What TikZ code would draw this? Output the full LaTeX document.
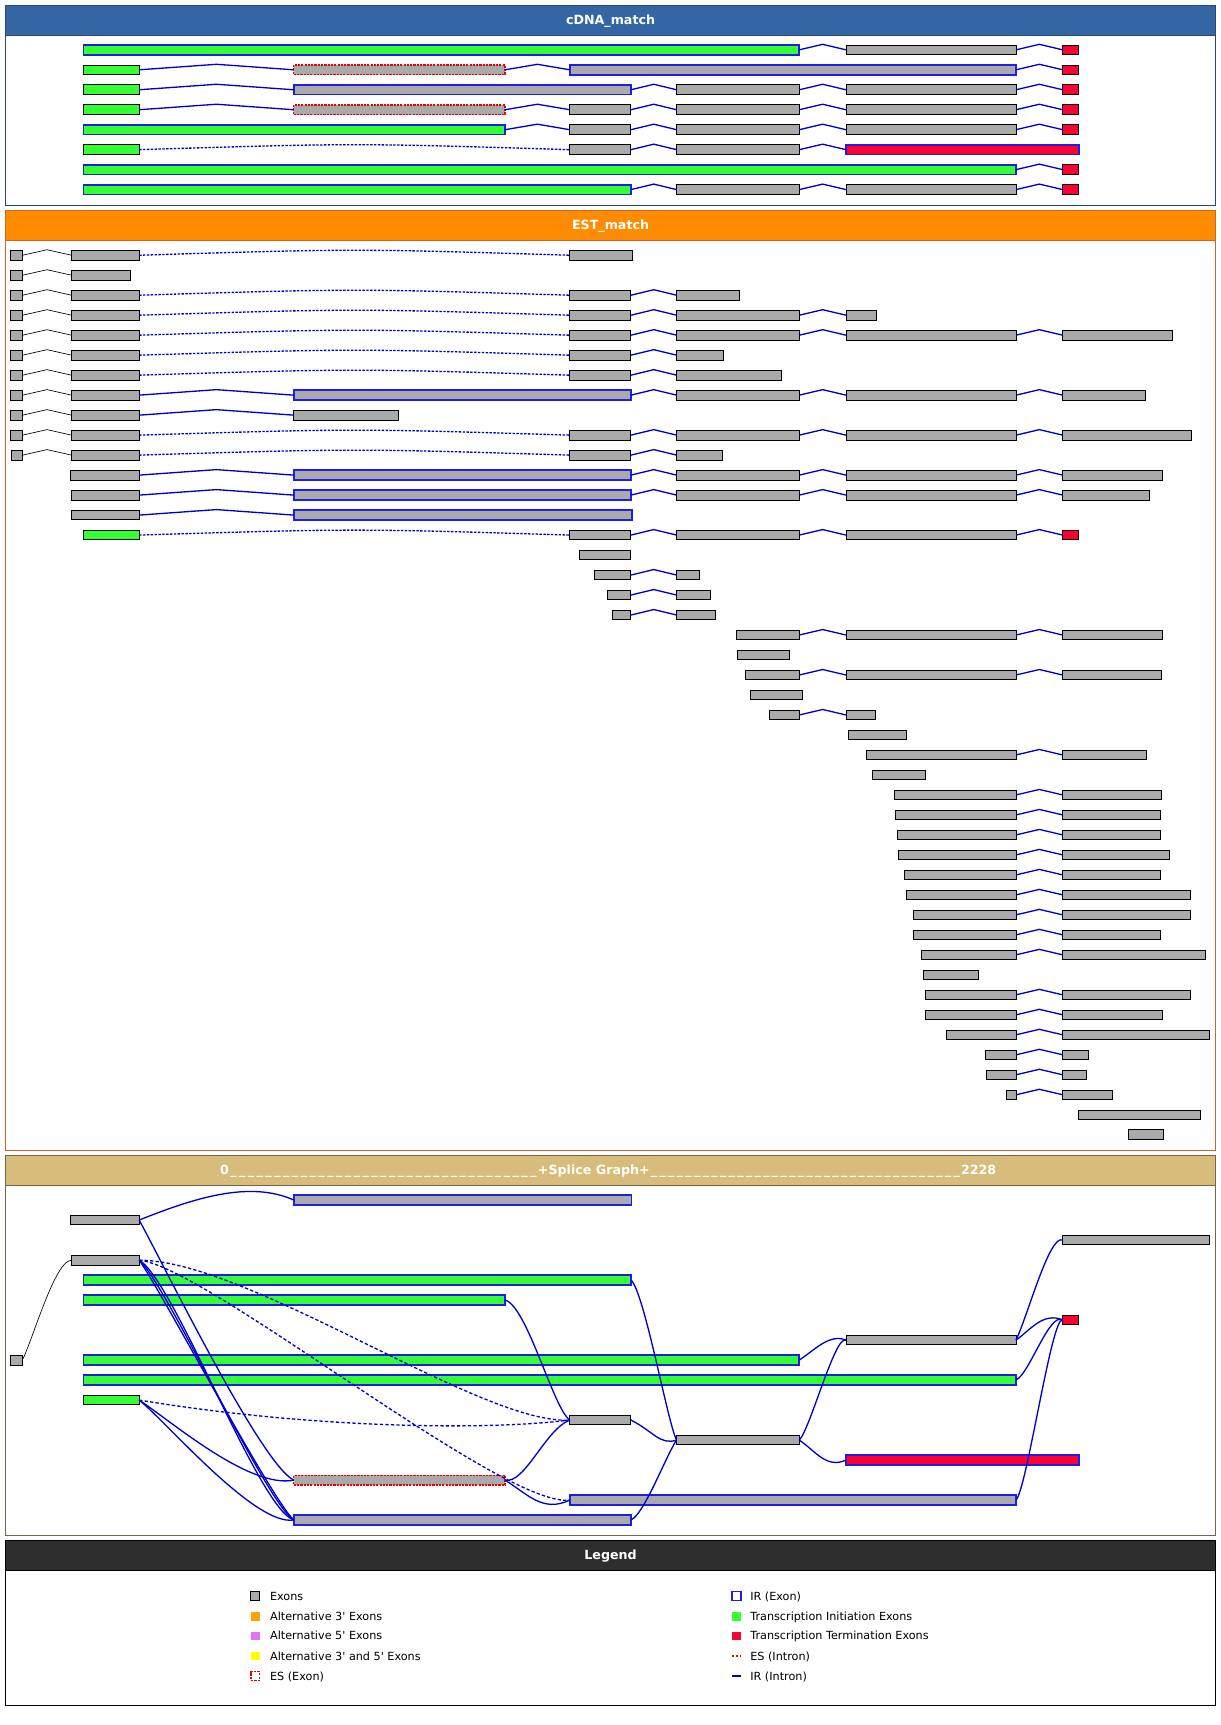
\documentclass[tikz,border=0pt]{standalone}
\usepackage{fontspec}
\setmainfont{DejaVu Sans}
\usetikzlibrary{calc}
\definecolor{exgray}{RGB}{170,170,170}
\definecolor{exgreen}{RGB}{51,255,51}
\definecolor{exred}{RGB}{255,0,51}
\definecolor{irblue}{RGB}{30,30,230}
\definecolor{inblue}{RGB}{0,0,205}
\definecolor{esred}{RGB}{235,0,0}
\definecolor{hdblue}{RGB}{52,101,164}
\definecolor{frblue}{RGB}{40,72,115}
\definecolor{hdorange}{RGB}{255,140,0}
\definecolor{frorange}{RGB}{205,100,40}
\definecolor{hdtan}{RGB}{215,188,123}
\definecolor{frtan}{RGB}{115,100,75}
\definecolor{hddark}{RGB}{46,46,46}
\definecolor{lgorange}{RGB}{255,165,0}
\definecolor{lgviolet}{RGB}{221,119,243}
\definecolor{lgyellow}{RGB}{255,255,0}
\newcommand\exn[5]{\node[#5,minimum width={#3-#2},anchor=west] (#1) at (#2,#4) {};}
\newcommand\intn[2]{\draw[intb] (#1.east) -- ($(#1.east)!.5!(#2.west)+(0,-5)$) -- (#2.west);}
\newcommand\intk[2]{\draw[intbk] (#1.east) -- ($(#1.east)!.5!(#2.west)+(0,-5)$) -- (#2.west);}
\newcommand\intd[2]{\draw[intds] (#1.east) .. controls ($(#1.east)!.5!(#2.west)+(0,-6)$) .. (#2.west);}
\begin{document}
\begin{tikzpicture}[x=1pt,y=-1pt,
  every node/.style={inner sep=0pt,outer sep=0pt},
  xbox/.style={rectangle,minimum height=8.8pt},
  gex/.style={xbox,fill=exgray,draw=black,line width=0.8pt},
  gir/.style={xbox,fill=exgray,draw=irblue,line width=1.6pt},
  grn/.style={xbox,fill=exgreen,draw=black,line width=0.8pt},
  grnir/.style={xbox,fill=exgreen,draw=irblue,line width=1.6pt},
  rex/.style={xbox,fill=exred,draw=black,line width=0.8pt},
  rexir/.style={xbox,fill=exred,draw=irblue,line width=1.6pt},
  esx/.style={xbox,fill=exgray,draw=esred,line width=1.3pt,dash pattern=on 2pt off 1pt},
  intb/.style={draw=inblue,line width=1.2pt},
  intbk/.style={draw=black,line width=0.6pt},
  intds/.style={draw=inblue,line width=1.2pt,dash pattern=on 2.2pt off 1.3pt},
  sg/.style={draw=inblue,line width=1.2pt},
  sgd/.style={draw=inblue,line width=1.2pt,dash pattern=on 3pt off 2pt},
  sgk/.style={draw=black,line width=0.6pt},
  htitle/.style={text=white,font=\bfseries\fontsize{11.5}{13}\selectfont},
  lgtx/.style={anchor=base west,font=\fontsize{10.2}{12}\selectfont},
  lgsq/.style={minimum width=8pt,minimum height=8pt},
]
\useasboundingbox[fill=white] (0,0) rectangle (1109,1568);
% ---------------- panels
\fill[hdblue] (5,5) rectangle (1105,32);
\draw[frblue,line width=1pt] (5,5) rectangle (1105,186.5) (5,32) -- (1105,32);
\node[htitle,anchor=base] (t1) at (555,22.7) {cDNA\_match};
\fill[hdorange] (5,191) rectangle (1105,218.5);
\draw[frorange,line width=1pt] (5,191) rectangle (1105,1045.5) (5,218.5) -- (1105,218.5);
\node[htitle,anchor=base] (t2) at (555,209) {EST\_match};
\fill[hdtan] (5,1050) rectangle (1105,1077.3);
\draw[frtan,line width=1pt] (5,1050) rectangle (1105,1395.5) (5,1077.3) -- (1105,1077.3);
\node[htitle,anchor=base west] (t3) at (200,1067.8) {0\hbox to 281pt{\xleaders\hbox to 7.81pt{\hss\_\hss}\hfill}+Splice Graph+\hbox to 283pt{\xleaders\hbox to 7.86pt{\hss\_\hss}\hfill}2228};
\fill[hddark] (5,1400) rectangle (1105,1427.3);
\draw[black,line width=1pt] (5,1400) rectangle (1105,1550.5) (5,1427.3) -- (1105,1427.3);
\node[htitle,anchor=base] (t4) at (555,1417.9) {Legend};
% ---------------- cDNA
\exn{c1a}{76}{726.5}{45.3}{grnir}\exn{c1b}{769}{923.5}{45.3}{gex}\exn{c1c}{966}{980.5}{45.3}{rex}
\intn{c1a}{c1b}\intn{c1b}{c1c}
\exn{c2a}{76}{126.5}{63.45}{grn}\exn{c2b}{267}{459}{63.45}{esx}\exn{c2c}{518}{923.5}{63.45}{gir}\exn{c2d}{966}{980.5}{63.45}{rex}
\intn{c2a}{c2b}\intn{c2b}{c2c}\intn{c2c}{c2d}
\exn{c3a}{76}{126.5}{81.6}{grn}\exn{c3b}{267}{573.5}{81.6}{gir}\exn{c3c}{615}{726.5}{81.6}{gex}\exn{c3d}{769}{923.5}{81.6}{gex}\exn{c3e}{966}{980.5}{81.6}{rex}
\intn{c3a}{c3b}\intn{c3b}{c3c}\intn{c3c}{c3d}\intn{c3d}{c3e}
\exn{c4a}{76}{126.5}{99.75}{grn}\exn{c4b}{267}{459}{99.75}{esx}\exn{c4c}{518}{573.5}{99.75}{gex}\exn{c4d}{615}{726.5}{99.75}{gex}\exn{c4e}{769}{923.5}{99.75}{gex}\exn{c4f}{966}{980.5}{99.75}{rex}
\intn{c4a}{c4b}\intn{c4b}{c4c}\intn{c4c}{c4d}\intn{c4d}{c4e}\intn{c4e}{c4f}
\exn{c5a}{76}{459}{117.9}{grnir}\exn{c5b}{518}{573.5}{117.9}{gex}\exn{c5c}{615}{726.5}{117.9}{gex}\exn{c5d}{769}{923.5}{117.9}{gex}\exn{c5e}{966}{980.5}{117.9}{rex}
\intn{c5a}{c5b}\intn{c5b}{c5c}\intn{c5c}{c5d}\intn{c5d}{c5e}
\exn{c6a}{76}{126.5}{136.05}{grn}\exn{c6b}{518}{573.5}{136.05}{gex}\exn{c6c}{615}{726.5}{136.05}{gex}\exn{c6d}{769}{980.5}{136.05}{rexir}
\intd{c6a}{c6b}\intn{c6b}{c6c}\intn{c6c}{c6d}
\exn{c7a}{76}{923.5}{154.2}{grnir}\exn{c7b}{966}{980.5}{154.2}{rex}
\intn{c7a}{c7b}
\exn{c8a}{76}{573.5}{172.35}{grnir}\exn{c8b}{615}{726.5}{172.35}{gex}\exn{c8c}{769}{923.5}{172.35}{gex}\exn{c8d}{966}{980.5}{172.35}{rex}
\intn{c8a}{c8b}\intn{c8b}{c8c}\intn{c8c}{c8d}
% ---------------- EST
\exn{e0s}{9.5}{20.5}{232}{gex}\exn{e0a}{65}{126.5}{232}{gex}\exn{e0c}{518}{574.5}{232}{gex}
\intk{e0s}{e0a}\intd{e0a}{e0c}
\exn{e1s}{9.5}{20.5}{250.17}{gex}\exn{e1a}{65}{119}{250.17}{gex}
\intk{e1s}{e1a}
\exn{e2s}{9.5}{20.5}{268.34}{gex}\exn{e2a}{65}{126.5}{268.34}{gex}\exn{e2c}{518}{573.5}{268.34}{gex}\exn{e2d}{615}{672}{268.34}{gex}
\intk{e2s}{e2a}\intd{e2a}{e2c}\intn{e2c}{e2d}
\exn{e3s}{9.5}{20.5}{286.51}{gex}\exn{e3a}{65}{126.5}{286.51}{gex}\exn{e3c}{518}{573.5}{286.51}{gex}\exn{e3d}{615}{726.5}{286.51}{gex}\exn{e3e}{769}{797}{286.51}{gex}
\intk{e3s}{e3a}\intd{e3a}{e3c}\intn{e3c}{e3d}\intn{e3d}{e3e}
\exn{e4s}{9.5}{20.5}{304.68}{gex}\exn{e4a}{65}{126.5}{304.68}{gex}\exn{e4c}{518}{573.5}{304.68}{gex}\exn{e4d}{615}{726.5}{304.68}{gex}\exn{e4e}{769}{923.5}{304.68}{gex}\exn{e4f}{966}{1066}{304.68}{gex}
\intk{e4s}{e4a}\intd{e4a}{e4c}\intn{e4c}{e4d}\intn{e4d}{e4e}\intn{e4e}{e4f}
\exn{e5s}{9.5}{20.5}{322.85}{gex}\exn{e5a}{65}{126.5}{322.85}{gex}\exn{e5c}{518}{573.5}{322.85}{gex}\exn{e5d}{615}{658}{322.85}{gex}
\intk{e5s}{e5a}\intd{e5a}{e5c}\intn{e5c}{e5d}
\exn{e6s}{9.5}{20.5}{341.02}{gex}\exn{e6a}{65}{126.5}{341.02}{gex}\exn{e6c}{518}{573.5}{341.02}{gex}\exn{e6d}{615}{710}{341.02}{gex}
\intk{e6s}{e6a}\intd{e6a}{e6c}\intn{e6c}{e6d}
\exn{e7s}{9.5}{20.5}{359.19}{gex}\exn{e7a}{65}{126.5}{359.19}{gex}\exn{e7b}{267}{573.5}{359.19}{gir}\exn{e7d}{615}{726.5}{359.19}{gex}\exn{e7e}{769}{923.5}{359.19}{gex}\exn{e7f}{966}{1041}{359.19}{gex}
\intk{e7s}{e7a}\intn{e7a}{e7b}\intn{e7b}{e7d}\intn{e7d}{e7e}\intn{e7e}{e7f}
\exn{e8s}{9.5}{20.5}{377.36}{gex}\exn{e8a}{65}{126.5}{377.36}{gex}\exn{e8b}{267}{362}{377.36}{gex}
\intk{e8s}{e8a}\intn{e8a}{e8b}
\exn{e9s}{9.5}{20.5}{395.53}{gex}\exn{e9a}{65}{126.5}{395.53}{gex}\exn{e9c}{518}{573.5}{395.53}{gex}\exn{e9d}{615}{726.5}{395.53}{gex}\exn{e9e}{769}{923.5}{395.53}{gex}\exn{e9f}{966}{1083}{395.53}{gex}
\intk{e9s}{e9a}\intd{e9a}{e9c}\intn{e9c}{e9d}\intn{e9d}{e9e}\intn{e9e}{e9f}
\exn{e10s}{10.3}{20.5}{413.7}{gex}\exn{e10a}{65}{126.5}{413.7}{gex}\exn{e10c}{518}{573.5}{413.7}{gex}\exn{e10d}{615}{657}{413.7}{gex}
\intk{e10s}{e10a}\intd{e10a}{e10c}\intn{e10c}{e10d}
\exn{e11a}{64}{126.5}{431.87}{gex}\exn{e11b}{267}{573.5}{431.87}{gir}\exn{e11d}{615}{726.5}{431.87}{gex}\exn{e11e}{769}{923.5}{431.87}{gex}\exn{e11f}{966}{1057}{431.87}{gex}
\intn{e11a}{e11b}\intn{e11b}{e11d}\intn{e11d}{e11e}\intn{e11e}{e11f}
\exn{e12a}{65}{126.5}{450.04}{gex}\exn{e12b}{267}{573.5}{450.04}{gir}\exn{e12d}{615}{726.5}{450.04}{gex}\exn{e12e}{769}{923.5}{450.04}{gex}\exn{e12f}{966}{1045}{450.04}{gex}
\intn{e12a}{e12b}\intn{e12b}{e12d}\intn{e12d}{e12e}\intn{e12e}{e12f}
\exn{e13a}{65}{126.5}{468.21}{gex}\exn{e13b}{267}{574.5}{468.21}{gir}
\intn{e13a}{e13b}
\exn{e14a}{76}{126.5}{486.38}{grn}\exn{e14c}{518}{573.5}{486.38}{gex}\exn{e14d}{615}{726.5}{486.38}{gex}\exn{e14e}{769}{923.5}{486.38}{gex}\exn{e14f}{966}{980.5}{486.38}{rex}
\intd{e14a}{e14c}\intn{e14c}{e14d}\intn{e14d}{e14e}\intn{e14e}{e14f}
\exn{e15c}{527}{573.5}{504.55}{gex}
\exn{e16c}{540}{573.5}{522.72}{gex}\exn{e16d}{615}{636}{522.72}{gex}\intn{e16c}{e16d}
\exn{e17c}{552}{573.5}{540.89}{gex}\exn{e17d}{615}{646}{540.89}{gex}\intn{e17c}{e17d}
\exn{e18c}{557}{573.5}{559.06}{gex}\exn{e18d}{615}{650}{559.06}{gex}\intn{e18c}{e18d}
\exn{e19d}{669}{726.5}{577.23}{gex}\exn{e19e}{769}{923.5}{577.23}{gex}\exn{e19f}{966}{1057}{577.23}{gex}\intn{e19d}{e19e}\intn{e19e}{e19f}
\exn{e20d}{670}{718}{595.4}{gex}
\exn{e21d}{678}{726.5}{613.57}{gex}\exn{e21e}{769}{923.5}{613.57}{gex}\exn{e21f}{966}{1056}{613.57}{gex}\intn{e21d}{e21e}\intn{e21e}{e21f}
\exn{e22d}{682}{729}{631.74}{gex}
\exn{e23d}{699}{726.5}{649.91}{gex}\exn{e23e}{769}{796}{649.91}{gex}\intn{e23d}{e23e}
\exn{e24e}{771}{824}{668.08}{gex}
\exn{e25e}{788}{923.5}{686.25}{gex}\exn{e25f}{966}{1042}{686.25}{gex}\intn{e25e}{e25f}
\exn{e26e}{793}{841}{704.42}{gex}
\exn{e27e}{813}{923.5}{722.59}{gex}\exn{e27f}{966}{1056}{722.59}{gex}\intn{e27e}{e27f}
\exn{e28e}{814}{923.5}{740.76}{gex}\exn{e28f}{966}{1055}{740.76}{gex}\intn{e28e}{e28f}
\exn{e29e}{815.7}{923.5}{758.93}{gex}\exn{e29f}{966}{1055}{758.93}{gex}\intn{e29e}{e29f}
\exn{e30e}{816.6}{923.5}{777.1}{gex}\exn{e30f}{966}{1063}{777.1}{gex}\intn{e30e}{e30f}
\exn{e31e}{822}{923.5}{795.27}{gex}\exn{e31f}{966}{1055}{795.27}{gex}\intn{e31e}{e31f}
\exn{e32e}{824}{923.5}{813.44}{gex}\exn{e32f}{966}{1082}{813.44}{gex}\intn{e32e}{e32f}
\exn{e33e}{830}{923.5}{831.61}{gex}\exn{e33f}{966}{1082}{831.61}{gex}\intn{e33e}{e33f}
\exn{e34e}{830}{923.5}{849.78}{gex}\exn{e34f}{966}{1055}{849.78}{gex}\intn{e34e}{e34f}
\exn{e35e}{837.5}{923.5}{867.95}{gex}\exn{e35f}{966}{1096}{867.95}{gex}\intn{e35e}{e35f}
\exn{e36e}{839}{889}{886.12}{gex}
\exn{e37e}{841}{923.5}{904.29}{gex}\exn{e37f}{966}{1082}{904.29}{gex}\intn{e37e}{e37f}
\exn{e38e}{841}{923.5}{922.46}{gex}\exn{e38f}{966}{1057}{922.46}{gex}\intn{e38e}{e38f}
\exn{e39e}{860}{923.5}{940.63}{gex}\exn{e39f}{966}{1099}{940.63}{gex}\intn{e39e}{e39f}
\exn{e40e}{895.7}{923.5}{958.8}{gex}\exn{e40f}{966}{989}{958.8}{gex}\intn{e40e}{e40f}
\exn{e41e}{896.6}{923.5}{976.97}{gex}\exn{e41f}{966}{987.5}{976.97}{gex}\intn{e41e}{e41f}
\exn{e42e}{914.8}{923.5}{995.14}{gex}\exn{e42f}{966}{1011}{995.14}{gex}\intn{e42e}{e42f}
\exn{e43f}{980}{1091}{1013.31}{gex}
\exn{e44f}{1025.7}{1057.5}{1031.48}{gex}
% ---------------- splice graph
\exn{S1}{9.6}{20.3}{1236.3}{gex}
\exn{G1}{64}{126.5}{1109}{gex}
\exn{G2}{65}{126.5}{1145.5}{gex}
\exn{IR1}{267}{574}{1090.8}{gir}
\exn{GN1}{76}{573.5}{1163.5}{grnir}
\exn{GN2}{76}{459}{1181.7}{grnir}
\exn{GN3}{76}{726.5}{1236.3}{grnir}
\exn{GN4}{76}{923.5}{1254.4}{grnir}
\exn{GN5}{76}{126.5}{1272.6}{grn}
\exn{C}{518}{573.5}{1290.8}{gex}
\exn{D}{615}{726.5}{1309}{gex}
\exn{ES}{267}{459}{1345.4}{esx}
\exn{IR2}{518}{923.5}{1363.5}{gir}
\exn{IR3}{267}{573.5}{1381.6}{gir}
\exn{E}{769}{923.5}{1218.1}{gex}
\exn{TR}{966}{1099.5}{1127.2}{gex}
\exn{RS}{966}{980.5}{1199.9}{rex}
\exn{RL}{769}{980.5}{1327.2}{rexir}
\draw[sgk] (S1.east) .. controls +(10,-20) and +(-15,0) .. (G2.west);
\draw[sg] (G1.east) .. controls +(50,-20) and +(-40,-18) .. (IR1.west);
\draw[sg] (G1.east) .. controls +(22,40) and +(-30,-15) .. (ES.west);
\draw[sg] (G2.east) .. controls +(24,20) and +(-25,-15) .. (IR3.west);
\draw[sg] (G2.east) .. controls +(32,18) and +(-32,-10) .. (IR3.west);
\draw[sg] (G2.east) .. controls +(18,24) and +(-20,-18) .. (IR3.west);
\draw[sgd] (G2.east) .. controls +(100,0) and +(-80,5) .. (C.west);
\draw[sgd] (G2.east) .. controls +(60,5) and +(-60,8) .. (IR2.west);
\draw[sg] (GN5.east) .. controls +(30,20) and +(-40,8) .. (ES.west);
\draw[sg] (GN5.east) .. controls +(25,20) and +(-35,6) .. (IR3.west);
\draw[sgd] (GN5.east) .. controls +(150,25) and +(-80,10) .. (C.west);
\draw[sg] (GN2.east) .. controls +(20,5) and +(-15,-10) .. (C.west);
\draw[sg] (GN1.east) .. controls +(12,10) and +(-8,-15) .. (D.west);
\draw[sg] (C.east) .. controls +(20,10) and +(-15,5) .. (D.west);
\draw[sg] (ES.east) .. controls +(18,4) and +(-22,8) .. (C.west);
\draw[sg] (ES.east) .. controls +(20,12) and +(-25,12) .. (IR2.west);
\draw[sg] (IR3.east) .. controls +(12,-5) and +(-10,15) .. (D.west);
\draw[sg] (GN3.east) .. controls +(15,-10) and +(-15,-6) .. (E.west);
\draw[sg] (D.east) .. controls +(10,-10) and +(-10,-5) .. (E.west);
\draw[sg] (D.east) .. controls +(15,10) and +(-18,8) .. (RL.west);
\draw[sg] (E.east) .. controls +(10,-20) and +(-12,-6) .. (TR.west);
\draw[sg] (E.east) .. controls +(12,-8) and +(-18,-8) .. (RS.west);
\draw[sg] (GN4.east) .. controls +(12,-5) and +(-12,-8) .. (RS.west);
\draw[sg] (IR2.east) .. controls +(10,-10) and +(-10,-5) .. (RS.west);
% ---------------- legend
\node[lgsq,fill=exgray,draw=black,line width=0.7pt] (L1) at (232,1450.8) {};
\node[lgtx] (L1t) at (245.5,1454.4) {Exons};
\node[lgsq,fill=lgorange] (L2) at (232,1469) {};
\node[lgtx] (L2t) at (245.5,1472.6) {Alternative 3\textquotesingle{} Exons};
\node[lgsq,fill=lgviolet] (L3) at (232,1487.1) {};
\node[lgtx] (L3t) at (245.5,1490.7) {Alternative 5\textquotesingle{} Exons};
\node[lgsq,fill=lgyellow] (L4) at (232,1505.3) {};
\node[lgtx] (L4t) at (245.5,1508.9) {Alternative 3\textquotesingle{} and 5\textquotesingle{} Exons};
\node[lgsq,draw=esred,line width=1.3pt,dash pattern=on 2pt off 1.2pt] (L5) at (232,1523.5) {};
\node[lgtx] (L5t) at (245.5,1527.1) {ES (Exon)};
\node[lgsq,draw=irblue,line width=1.4pt] (R1) at (669.5,1450.8) {};
\node[lgtx] (R1t) at (682,1454.4) {IR (Exon)};
\node[lgsq,fill=exgreen] (R2) at (669.5,1469) {};
\node[lgtx] (R2t) at (682,1472.6) {Transcription Initiation Exons};
\node[lgsq,fill=exred] (R3) at (669.5,1487.1) {};
\node[lgtx] (R3t) at (682,1490.7) {Transcription Termination Exons};
\node[lgsq] (R4) at (669.5,1505.3) {};
\draw[esred,line width=1.2pt,dash pattern=on 2pt off 1.5pt] (R4.west) -- (R4.east);
\node[lgtx] (R4t) at (682,1508.9) {ES (Intron)};
\node[lgsq] (R5) at (669.5,1523.5) {};
\draw[inblue,line width=1.4pt] (R5.west) -- (R5.east);
\node[lgtx] (R5t) at (682,1527.1) {IR (Intron)};
\end{tikzpicture}
\end{document}
